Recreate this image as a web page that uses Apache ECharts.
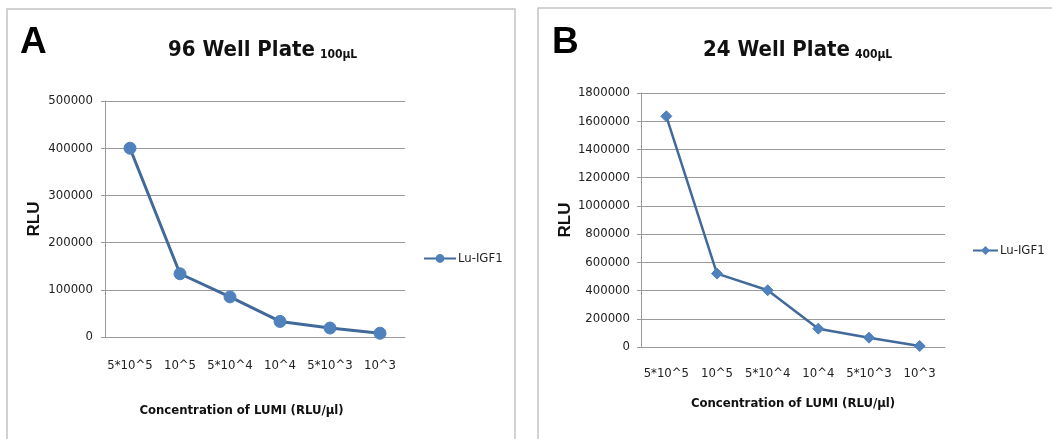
<!DOCTYPE html>
<html>
<head>
<meta charset="utf-8">
<script src="https://cdn.jsdelivr.net/npm/echarts@6/dist/echarts.min.js"></script>
<style>
  html, body { margin: 0; padding: 0; background: #fff; }
  #wrap { position: relative; width: 1052px; height: 439px; overflow: hidden; }
  .panel { position: absolute; top: 0; width: 526px; height: 439px; }
  #panelA { left: 0; }
  #panelB { left: 526px; }
</style>
</head>
<body>
<div id="wrap">
  <div id="panelA" class="panel"></div>
  <div id="panelB" class="panel"></div>
</div>
<script>
// Dilution series of LUMI, shared by both plates
const concentrations = ['5*10^5', '10^5', '5*10^4', '10^4', '5*10^3', '10^3'];
const seriesName = 'Lu-IGF1';

// Luminescence readings (RLU)
const rlu96 = [400000, 134000, 85000, 33000, 19000, 8000];
const rlu24 = [1635000, 520000, 402000, 130000, 66000, 7000];

// Value-axis ranges
const yMax96 = 500000, yStep96 = 100000;
const yMax24 = 1800000, yStep24 = 200000;

const NARROW = '"Liberation Sans Narrow", "DejaVu Sans Condensed", "Arial Narrow", sans-serif';
const WIDE = '"Liberation Sans", Arial, sans-serif';
const LINE = '#41699a';
const MARK = '#4f81bd';
const GRID = '#9a9a9a';

function buildOption(cfg) {
  return {
    animation: false,
    backgroundColor: '#fff',
    graphic: [
      {
        type: 'rect',
        shape: cfg.frame,
        style: { fill: 'none', stroke: '#c4c4c4', lineWidth: 1.5 },
        silent: true
      },
      {
        type: 'text',
        left: cfg.letterPos[0],
        top: cfg.letterPos[1],
        style: { text: cfg.letter, font: 'bold 37px ' + WIDE, fill: '#000' }
      }
    ],
    title: {
      text: '{big|' + cfg.title + '} {small|' + cfg.volume + '}',
      left: cfg.titleLeft,
      top: 34,
      padding: 0,
      textStyle: {
        rich: {
          big: { fontFamily: NARROW, fontWeight: 'bold', fontSize: 22, color: '#111', verticalAlign: 'bottom', lineHeight: 27 },
          small: { fontFamily: NARROW, fontWeight: 'bold', fontSize: 12, color: '#111', verticalAlign: 'bottom', lineHeight: 22 }
        }
      }
    },
    legend: {
      data: [seriesName],
      left: cfg.legendLeft,
      top: cfg.legendTop,
      padding: 0,
      itemWidth: cfg.legendItemWidth,
      itemHeight: 11,
      itemGap: 4,
      textStyle: { fontFamily: NARROW, fontSize: 13, color: '#222', padding: [0, 0, 0, -3] }
    },
    grid: cfg.grid,
    xAxis: {
      type: 'category',
      data: concentrations,
      boundaryGap: true,
      axisLine: { lineStyle: { color: GRID, width: 1 } },
      axisTick: { show: false },
      axisLabel: { interval: 0, fontFamily: NARROW, fontSize: 13, color: '#222', margin: cfg.xLabelMargin },
      name: 'Concentration of LUMI (RLU/µl)',
      nameLocation: 'middle',
      nameGap: cfg.xNameGap,
      nameMoveOverlap: false,
      nameTextStyle: {
        fontFamily: NARROW, fontWeight: 'bold', fontSize: 13, color: '#111',
        padding: cfg.xNamePadding
      }
    },
    yAxis: {
      type: 'value',
      min: 0,
      max: cfg.yMax,
      interval: cfg.yStep,
      axisLine: { show: true, lineStyle: { color: GRID, width: 1 } },
      axisTick: { show: true, length: 4, lineStyle: { color: GRID } },
      splitLine: { lineStyle: { color: GRID, width: 1 } },
      axisLabel: {
        fontFamily: NARROW, fontSize: 13, color: '#222', margin: cfg.yLabelMargin,
        formatter: (v) => String(v)
      },
      name: 'RLU',
      nameLocation: 'middle',
      nameGap: cfg.yNameGap,
      nameMoveOverlap: false,
      nameTextStyle: { fontFamily: WIDE, fontWeight: 'bold', fontSize: 17, color: '#111' }
    },
    series: [{
      name: seriesName,
      type: 'line',
      data: cfg.values,
      symbol: cfg.symbol,
      symbolSize: cfg.symbolSize,
      lineStyle: { color: LINE, width: cfg.lineWidth },
      itemStyle: { color: MARK, borderColor: MARK }
    }]
  };
}

const chartA = echarts.init(document.getElementById('panelA'), null, { renderer: 'canvas' });
chartA.setOption(buildOption({
  letter: 'A', letterPos: [20, 24],
  frame: { x: 7, y: 9, width: 508, height: 445 },
  title: '96 Well Plate', volume: '100µL', titleLeft: 168,
  legendLeft: 423, legendTop: 252, legendItemWidth: 32,
  grid: { left: 105, right: 121, top: 101, bottom: 102 },
  xLabelMargin: 22, xNameGap: 67, xNamePadding: [0, 27, 0, 0],
  yMax: yMax96, yStep: yStep96, yLabelMargin: 12, yNameGap: 62,
  values: rlu96, symbol: 'circle', symbolSize: 12, lineWidth: 3
}));

const chartB = echarts.init(document.getElementById('panelB'), null, { renderer: 'canvas' });
chartB.setOption(buildOption({
  letter: 'B', letterPos: [26, 24],
  frame: { x: 12, y: 8, width: 525, height: 445 },
  title: '24 Well Plate', volume: '400µL', titleLeft: 177,
  legendLeft: 446, legendTop: 244, legendItemWidth: 25,
  grid: { left: 115, right: 107, top: 93, bottom: 92 },
  xLabelMargin: 20, xNameGap: 50, xNamePadding: [0, 0, 0, 0],
  yMax: yMax24, yStep: yStep24, yLabelMargin: 11, yNameGap: 67,
  values: rlu24, symbol: 'diamond', symbolSize: 11, lineWidth: 2.5
}));
</script>
</body>
</html>
